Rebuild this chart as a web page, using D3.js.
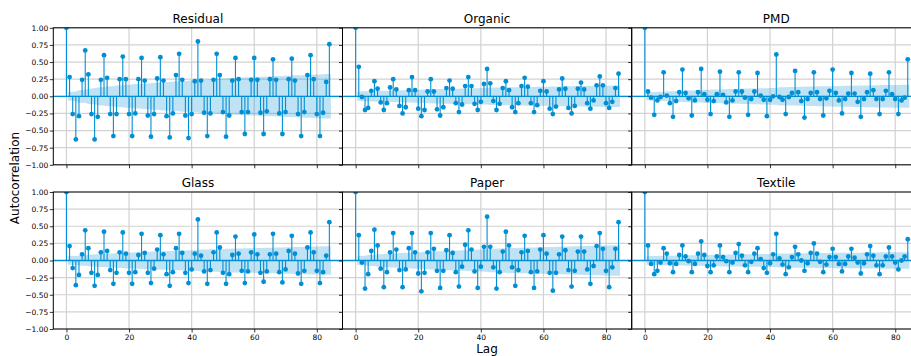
<!DOCTYPE html>
<html>
<head>
<meta charset="utf-8">
<script src="https://cdn.jsdelivr.net/npm/d3@7"></script>
<style>
  body { margin: 0; background: #fff; }
  svg { display: block; font-family: "DejaVu Sans", sans-serif; }
</style>
</head>
<body>
<svg id="chart" width="911" height="356"></svg>
<script>
// autocorrelation per lag, lag 0 .. 84
const residual = [
  1.00, 0.28, -0.26, -0.63, -0.29, 0.24, 0.67, 0.32, -0.26, -0.63,
  -0.30, 0.24, 0.60, 0.27, -0.26, -0.58, -0.26, 0.25, 0.58, 0.25,
  -0.26, -0.58, -0.25, 0.25, 0.56, 0.23, -0.28, -0.59, -0.26, 0.26,
  0.57, 0.23, -0.29, -0.60, -0.25, 0.31, 0.62, 0.24, -0.28, -0.61,
  -0.26, 0.22, 0.80, 0.23, -0.24, -0.58, -0.25, 0.24, 0.62, 0.31,
  -0.23, -0.59, -0.28, 0.23, 0.56, 0.25, -0.23, -0.55, -0.23, 0.24,
  0.56, 0.24, -0.24, -0.55, -0.22, 0.25, 0.54, 0.24, -0.25, -0.55,
  -0.23, 0.25, 0.55, 0.23, -0.26, -0.58, -0.23, 0.31, 0.60, 0.25,
  -0.26, -0.58, -0.24, 0.21, 0.76
];
const organic = [
  1.00, 0.43, -0.01, -0.20, -0.17, 0.08, 0.22, 0.11, -0.09, -0.20,
  -0.10, 0.13, 0.25, 0.10, -0.14, -0.25, -0.16, 0.09, 0.28, 0.09,
  -0.18, -0.29, -0.20, 0.07, 0.25, 0.07, -0.19, -0.28, -0.16, 0.12,
  0.23, 0.11, -0.10, -0.23, -0.12, 0.15, 0.28, 0.15, -0.11, -0.20,
  -0.08, 0.18, 0.40, 0.19, -0.07, -0.20, -0.11, 0.12, 0.22, 0.09,
  -0.16, -0.23, -0.10, 0.15, 0.27, 0.14, -0.10, -0.23, -0.13, 0.08,
  0.22, 0.07, -0.18, -0.26, -0.15, 0.10, 0.26, 0.11, -0.17, -0.25,
  -0.14, 0.11, 0.20, 0.10, -0.10, -0.18, -0.06, 0.16, 0.29, 0.16,
  -0.10, -0.17, -0.08, 0.12, 0.33
];
const pmd = [
  1.00, 0.07, -0.02, -0.27, -0.06, -0.01, 0.35, 0.01, -0.10, -0.30,
  -0.07, 0.06, 0.39, 0.05, -0.03, -0.28, -0.06, 0.06, 0.40, 0.03,
  -0.05, -0.26, -0.07, 0.03, 0.36, 0.02, -0.09, -0.30, -0.06, 0.07,
  0.35, 0.07, -0.02, -0.27, -0.04, 0.07, 0.34, 0.01, -0.05, -0.29,
  -0.05, 0.00, 0.61, -0.01, -0.05, -0.26, -0.01, 0.05, 0.37, 0.06,
  -0.07, -0.31, -0.04, 0.05, 0.35, 0.06, -0.04, -0.28, -0.03, 0.08,
  0.39, 0.05, -0.06, -0.25, -0.04, 0.04, 0.34, 0.04, -0.08, -0.30,
  -0.04, 0.06, 0.33, 0.09, -0.04, -0.26, -0.04, 0.08, 0.35, 0.03,
  -0.04, -0.26, -0.06, -0.02, 0.54
];
const glass = [
  1.00, 0.21, -0.11, -0.36, -0.21, 0.09, 0.44, 0.18, -0.18, -0.37,
  -0.21, 0.12, 0.42, 0.14, -0.14, -0.34, -0.18, 0.12, 0.41, 0.10,
  -0.18, -0.34, -0.17, 0.08, 0.39, 0.11, -0.18, -0.33, -0.12, 0.16,
  0.37, 0.09, -0.20, -0.37, -0.17, 0.18, 0.39, 0.11, -0.18, -0.33,
  -0.13, 0.10, 0.60, 0.07, -0.16, -0.34, -0.14, 0.12, 0.41, 0.19,
  -0.18, -0.34, -0.20, 0.08, 0.35, 0.10, -0.15, -0.33, -0.16, 0.12,
  0.38, 0.09, -0.18, -0.31, -0.16, 0.09, 0.39, 0.10, -0.17, -0.32,
  -0.13, 0.14, 0.36, 0.10, -0.19, -0.34, -0.15, 0.19, 0.41, 0.12,
  -0.15, -0.33, -0.17, 0.07, 0.56
];
const paper = [
  1.00, 0.37, -0.03, -0.41, -0.20, 0.14, 0.45, 0.22, -0.12, -0.39,
  -0.17, 0.12, 0.40, 0.16, -0.14, -0.39, -0.13, 0.18, 0.40, 0.12,
  -0.19, -0.45, -0.18, 0.12, 0.40, 0.17, -0.15, -0.40, -0.15, 0.15,
  0.37, 0.11, -0.17, -0.38, -0.09, 0.23, 0.44, 0.16, -0.16, -0.40,
  -0.09, 0.20, 0.64, 0.20, -0.10, -0.41, -0.17, 0.13, 0.42, 0.22,
  -0.10, -0.37, -0.14, 0.12, 0.36, 0.14, -0.17, -0.40, -0.16, 0.16,
  0.37, 0.10, -0.18, -0.44, -0.18, 0.09, 0.35, 0.15, -0.14, -0.38,
  -0.15, 0.13, 0.35, 0.13, -0.13, -0.34, -0.08, 0.21, 0.40, 0.17,
  -0.15, -0.39, -0.10, 0.17, 0.56
];
const textile = [
  1.00, 0.22, -0.05, -0.20, -0.15, -0.03, 0.18, 0.10, -0.04, -0.17,
  -0.05, 0.08, 0.22, 0.06, -0.01, -0.17, -0.05, 0.10, 0.28, 0.08,
  -0.08, -0.17, -0.07, 0.06, 0.22, 0.05, -0.01, -0.17, -0.03, 0.11,
  0.24, 0.07, -0.07, -0.17, -0.02, 0.10, 0.18, 0.02, -0.11, -0.18,
  -0.04, 0.09, 0.39, 0.03, -0.06, -0.20, -0.10, 0.05, 0.20, 0.09,
  0.00, -0.15, -0.04, 0.11, 0.25, 0.10, -0.02, -0.17, -0.06, 0.05,
  0.17, 0.05, -0.05, -0.16, -0.05, 0.06, 0.17, 0.04, -0.03, -0.19,
  -0.04, 0.09, 0.21, 0.07, -0.07, -0.20, -0.07, 0.06, 0.19, 0.06,
  -0.03, -0.13, 0.00, 0.06, 0.31
];

const titles = ["Residual", "Organic", "PMD", "Glass", "Paper", "Textile"];
const seriesList = [residual, organic, pmd, glass, paper, textile];
const xTicks = [0, 20, 40, 60, 80];
const yTicks = [-1.00, -0.75, -0.50, -0.25, 0.00, 0.25, 0.50, 0.75, 1.00];
const nobs = 1000;   // sample size used for the Bartlett band
const zAlpha = 1.96;

const color = "#008fd5";
const left0 = 53.3, colW = 289.2, panelH = 137;
const rowTop = [27.8, 192];

const svg = d3.select("#chart");

const x = d3.scaleLinear().domain([-4.2, 88.2]).range([0, colW]);
const y = d3.scaleLinear().domain([-1, 1]).range([panelH, 0]);

function bartlett(acf) {
  // same as statsmodels acf(alpha=0.05): interval grows with cumulated r^2
  let cum = 0;
  const out = [];
  for (let k = 1; k < acf.length; k++) {
    if (k >= 2) cum += acf[k - 1] * acf[k - 1];
    out.push({ lag: k, half: zAlpha * Math.sqrt((1 + 2 * cum) / nobs) });
  }
  out[0].lag -= 0.5;
  out[out.length - 1].lag += 0.5;
  return out;
}

seriesList.forEach((acf, i) => {
  const row = Math.floor(i / 3), col = i % 3;
  const g = svg.append("g")
    .attr("transform", "translate(" + (left0 + col * colW) + "," + rowTop[row] + ")");

  const clipId = "clip" + i;
  g.append("clipPath").attr("id", clipId)
    .append("rect").attr("width", colW).attr("height", panelH);

  // grid
  g.append("g").selectAll("line").data(xTicks).enter().append("line")
    .attr("x1", d => x(d)).attr("x2", d => x(d))
    .attr("y1", 0).attr("y2", panelH)
    .attr("stroke", "#d2d2d2").attr("stroke-width", 1.2);
  g.append("g").selectAll("line").data(yTicks).enter().append("line")
    .attr("x1", 0).attr("x2", colW)
    .attr("y1", d => y(d)).attr("y2", d => y(d))
    .attr("stroke", "#d2d2d2").attr("stroke-width", 1.2);

  const plot = g.append("g").attr("clip-path", "url(#" + clipId + ")");

  // confidence band
  const band = bartlett(acf);
  plot.append("path")
    .datum(band)
    .attr("d", d3.area().x(d => x(d.lag)).y0(d => y(-d.half)).y1(d => y(d.half)))
    .attr("fill", color).attr("fill-opacity", 0.25);

  // stems
  plot.append("g").selectAll("line").data(acf).enter().append("line")
    .attr("x1", (d, k) => x(k)).attr("x2", (d, k) => x(k))
    .attr("y1", y(0)).attr("y2", d => y(d))
    .attr("stroke", color).attr("stroke-width", 1.1);

  plot.append("line")
    .attr("x1", 0).attr("x2", colW).attr("y1", y(0)).attr("y2", y(0))
    .attr("stroke", color).attr("stroke-width", 1.3);

  plot.append("g").selectAll("circle").data(acf).enter().append("circle")
    .attr("cx", (d, k) => x(k)).attr("cy", d => y(d))
    .attr("r", 2.4).attr("fill", color);

  // axes
  const yAxis = d3.axisLeft(y).tickValues(yTicks).tickSize(3.5).tickPadding(1.5)
    .tickFormat(col === 0 ? d3.format(".2f") : () => "");
  const ya = g.append("g").call(yAxis);
  const xAxis = d3.axisBottom(x).tickValues(xTicks).tickSize(3.5).tickPadding(2)
    .tickFormat(row === 1 ? d3.format("d") : () => "");
  const xa = g.append("g").attr("transform", "translate(0," + panelH + ")").call(xAxis);
  [ya, xa].forEach(a => {
    a.select(".domain").remove();
    a.selectAll("line").attr("stroke", "#000").attr("stroke-width", 0.8);
    a.selectAll("text").attr("fill", "#000")
      .style("font-family", "DejaVu Sans").style("font-size", "7.5px");
  });

  g.append("rect").attr("width", colW).attr("height", panelH)
    .attr("fill", "none").attr("stroke", "#000").attr("stroke-width", 1);

  g.append("text")
    .attr("x", colW / 2).attr("y", -5)
    .attr("text-anchor", "middle")
    .style("font-size", "12px")
    .text(titles[i]);
});

svg.append("text")
  .attr("transform", "translate(19,178) rotate(-90)")
  .attr("text-anchor", "middle")
  .style("font-size", "12px")
  .text("Autocorrelation");

svg.append("text")
  .attr("x", 487).attr("y", 353)
  .attr("text-anchor", "middle")
  .style("font-size", "12px")
  .text("Lag");
</script>
</body>
</html>
